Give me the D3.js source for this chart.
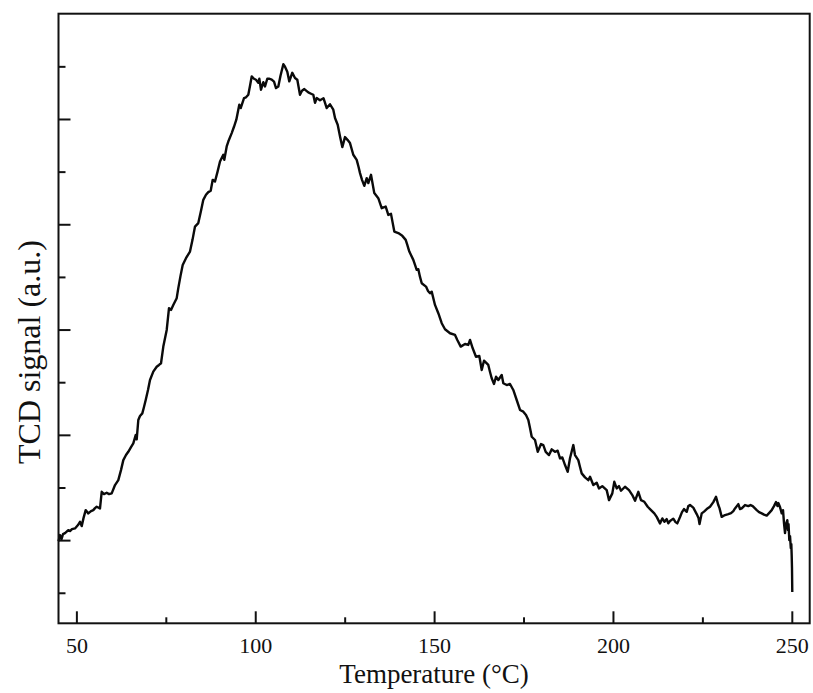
<!DOCTYPE html>
<html>
<head>
<meta charset="utf-8">
<script src="https://cdn.jsdelivr.net/npm/d3@7"></script>
<style>
  html, body { margin: 0; padding: 0; background: #fff; }
  svg text { font-family: "Liberation Serif", "Times New Roman", serif; fill: #111; }
</style>
</head>
<body>
<svg id="chart" width="813" height="693"></svg>
<script>
// TPD profile: temperature (°C) and TCD signal (a.u.)
const temperature = [
  45.0, 45.42, 45.84, 46.26, 46.82, 47.74, 48.21, 48.77, 49.61, 50.45,
  51.01, 51.49, 51.99, 52.60, 53.33, 54.09, 54.73, 55.20, 55.68, 56.60,
  57.08, 57.72, 58.47, 59.12, 59.87, 60.80, 61.72, 62.47, 63.12, 63.87,
  64.51, 65.27, 65.91, 66.58, 66.86, 67.31, 67.78, 68.43, 68.90, 69.38,
  70.02, 70.58, 71.50, 72.45, 73.10, 73.66, 74.30, 75.25, 75.89, 76.45,
  77.09, 78.04, 78.49, 79.11, 79.72, 80.64, 81.76, 82.46, 83.16, 84.08,
  84.84, 85.48, 86.23, 86.88, 87.55, 88.11, 88.75, 89.45, 90.15, 91.07,
  91.35, 92.02, 92.47, 93.42, 94.06, 94.71, 95.54, 95.94, 96.86, 97.42,
  98.06, 98.54, 99.01, 99.65, 100.21, 100.86, 101.14, 101.61, 102.25, 102.73,
  103.37, 103.99, 104.60, 105.25, 105.80, 106.45, 107.06, 107.85, 108.32, 108.96,
  109.52, 110.36, 111.11, 111.76, 112.51, 113.07, 113.72, 114.83, 115.59, 116.23,
  116.71, 117.18, 118.10, 119.08, 119.98, 120.90, 121.82, 122.30, 123.05, 123.70,
  124.34, 125.09, 125.79, 126.49, 127.41, 128.36, 128.87, 129.29, 129.85, 130.49,
  131.16, 131.61, 132.36, 133.28, 134.40, 135.35, 136.47, 137.20, 137.95, 138.37,
  138.88, 139.99, 141.11, 142.06, 142.51, 143.07, 144.19, 145.14, 145.59, 146.06,
  146.54, 147.74, 148.30, 148.86, 149.33, 150.25, 151.18, 152.13, 153.05, 154.45,
  155.85, 156.49, 157.44, 158.64, 159.56, 160.04, 160.79, 161.71, 162.64, 163.31,
  163.95, 165.15, 165.63, 166.10, 166.75, 167.31, 167.95, 168.90, 169.35, 170.30,
  171.22, 172.14, 173.09, 174.02, 174.94, 175.69, 176.34, 176.81, 177.29, 178.21,
  178.97, 179.89, 180.53, 181.20, 182.12, 182.88, 183.80, 184.55, 185.20, 185.84,
  186.60, 187.35, 187.99, 188.92, 189.39, 190.31, 190.79, 191.26, 192.19, 193.11,
  193.59, 194.51, 195.46, 196.10, 197.02, 198.25, 198.90, 199.82, 200.38, 201.05,
  201.69, 202.25, 203.37, 204.49, 205.41, 206.17, 207.09, 207.84, 208.77, 209.71,
  210.64, 211.56, 212.23, 213.15, 213.80, 214.41, 215.03, 215.47, 215.95, 216.87,
  217.49, 217.99, 218.75, 219.30, 219.86, 220.62, 221.07, 221.54, 222.46, 223.41,
  223.92, 224.20, 224.81, 225.46, 226.21, 227.13, 228.06, 228.81, 229.45, 229.79,
  230.40, 231.33, 232.25, 233.01, 233.65, 234.12, 235.05, 235.52, 236.00, 236.92,
  237.84, 238.46, 239.07, 240.19, 240.83, 241.59, 242.23, 242.98, 243.63, 244.38,
  245.02, 245.58, 246.00, 246.23, 246.70, 247.18, 247.54, 247.82, 248.10, 248.38,
  248.74, 248.94, 249.08, 249.30, 249.50, 249.72, 249.86, 249.97, 250.05, 250.13
];
const signal = [
  0.990, 1.048, 1.010, 1.057, 1.067, 1.095, 1.086, 1.105, 1.111, 1.143,
  1.174, 1.133, 1.209, 1.285, 1.254, 1.276, 1.285, 1.304, 1.317, 1.301,
  1.459, 1.437, 1.450, 1.437, 1.444, 1.523, 1.570, 1.665, 1.760, 1.808,
  1.839, 1.884, 1.919, 1.998, 1.957, 2.141, 2.179, 2.204, 2.264, 2.331,
  2.426, 2.521, 2.600, 2.647, 2.664, 2.680, 2.838, 2.996, 3.203, 3.186,
  3.234, 3.298, 3.393, 3.510, 3.614, 3.678, 3.741, 3.852, 3.978, 4.011,
  4.128, 4.232, 4.280, 4.305, 4.318, 4.422, 4.406, 4.498, 4.596, 4.660,
  4.612, 4.739, 4.786, 4.866, 4.926, 4.993, 5.135, 5.104, 5.199, 5.206,
  5.230, 5.316, 5.404, 5.382, 5.373, 5.344, 5.382, 5.278, 5.349, 5.309,
  5.382, 5.382, 5.373, 5.354, 5.294, 5.309, 5.411, 5.520, 5.496, 5.449,
  5.357, 5.439, 5.389, 5.373, 5.230, 5.268, 5.284, 5.252, 5.240, 5.230,
  5.154, 5.199, 5.178, 5.197, 5.104, 5.140, 5.088, 5.009, 4.945, 4.834,
  4.733, 4.828, 4.802, 4.771, 4.660, 4.612, 4.546, 4.486, 4.422, 4.365,
  4.438, 4.391, 4.470, 4.296, 4.248, 4.153, 4.168, 4.089, 4.099, 4.023,
  3.931, 3.916, 3.890, 3.852, 3.804, 3.741, 3.662, 3.567, 3.573, 3.500,
  3.440, 3.408, 3.367, 3.345, 3.360, 3.234, 3.155, 3.060, 3.003, 2.965,
  2.949, 2.901, 2.838, 2.863, 2.854, 2.901, 2.822, 2.742, 2.749, 2.616,
  2.704, 2.664, 2.597, 2.537, 2.483, 2.552, 2.521, 2.568, 2.490, 2.473,
  2.483, 2.426, 2.331, 2.236, 2.220, 2.188, 2.141, 2.065, 1.982, 1.951,
  1.839, 1.913, 1.903, 1.839, 1.808, 1.862, 1.839, 1.849, 1.777, 1.786,
  1.713, 1.649, 1.777, 1.903, 1.808, 1.760, 1.694, 1.634, 1.596, 1.570,
  1.602, 1.523, 1.545, 1.491, 1.513, 1.475, 1.380, 1.444, 1.554, 1.491,
  1.513, 1.469, 1.507, 1.475, 1.428, 1.374, 1.459, 1.380, 1.364, 1.317,
  1.285, 1.254, 1.221, 1.159, 1.206, 1.174, 1.200, 1.159, 1.181, 1.204,
  1.171, 1.159, 1.219, 1.266, 1.295, 1.269, 1.323, 1.333, 1.309, 1.247,
  1.209, 1.152, 1.254, 1.271, 1.295, 1.317, 1.361, 1.412, 1.333, 1.304,
  1.221, 1.238, 1.247, 1.257, 1.276, 1.301, 1.342, 1.295, 1.301, 1.333,
  1.323, 1.333, 1.323, 1.285, 1.266, 1.254, 1.242, 1.233, 1.257, 1.285,
  1.323, 1.361, 1.323, 1.352, 1.314, 1.254, 1.285, 1.159, 1.067, 1.152,
  1.190, 1.095, 1.152, 1.000, 1.038, 0.924, 0.962, 0.848, 0.734, 0.508
];

// Axis ticks
const xMajorTicks = [50, 100, 150, 200, 250];
const xMinorTicks = [75, 125, 175, 225];
const yMajorTicks = [1, 2, 3, 4, 5];
const yMinorTicks = [0.5, 1.5, 2.5, 3.5, 4.5, 5.5];

const xTitle = "Temperature (°C)";
const yTitle = "TCD signal (a.u.)";

const W = 813, H = 693;
const margin = { top: 13.7, right: 3.3, bottom: 69.7, left: 58.5 };
const innerW = W - margin.left - margin.right;
const innerH = H - margin.top - margin.bottom;

const svg = d3.select("#chart");
const g = svg.append("g").attr("transform", `translate(${margin.left},${margin.top})`);

const x = d3.scaleLinear().domain([45, 255]).range([0, innerW]);
const y = d3.scaleLinear().domain([0.21, 6]).range([innerH, 0]);

const tickStyle = sel => {
  sel.select(".domain").remove();
  sel.selectAll(".tick line").attr("stroke", "#111").attr("stroke-width", 2);
};

// bottom axis: inward major ticks with labels, plus inward minor ticks
g.append("g")
  .attr("transform", `translate(0,${innerH})`)
  .call(d3.axisBottom(x).tickValues(xMajorTicks).tickSize(-12).tickPadding(14).tickFormat(d3.format("d")))
  .call(tickStyle)
  .call(s => s.selectAll(".tick text")
    .attr("font-size", 22)
    .attr("font-family", "Liberation Serif, Times New Roman, serif")
    .attr("fill", "#111"));

g.append("g")
  .attr("transform", `translate(0,${innerH})`)
  .call(d3.axisBottom(x).tickValues(xMinorTicks).tickSize(-6).tickFormat(""))
  .call(tickStyle);

// left axis: unlabeled inward ticks
g.append("g")
  .call(d3.axisLeft(y).tickValues(yMajorTicks).tickSize(-12).tickFormat(""))
  .call(tickStyle);

g.append("g")
  .call(d3.axisLeft(y).tickValues(yMinorTicks).tickSize(-7).tickFormat(""))
  .call(tickStyle);

// signal trace
const pts = temperature.map((t, i) => [t, signal[i]]);
g.append("path")
  .datum(pts)
  .attr("fill", "none")
  .attr("stroke", "#0a0a0a")
  .attr("stroke-width", 2.4)
  .attr("stroke-linejoin", "round")
  .attr("d", d3.line().x(d => x(d[0])).y(d => y(d[1])));

// plot frame
g.append("rect")
  .attr("x", 0).attr("y", 0)
  .attr("width", innerW).attr("height", innerH)
  .attr("fill", "none")
  .attr("stroke", "#111")
  .attr("stroke-width", 2);

// axis titles
svg.append("text")
  .attr("x", margin.left + innerW / 2)
  .attr("y", 683)
  .attr("text-anchor", "middle")
  .attr("font-size", 27)
  .text(xTitle);

svg.append("text")
  .attr("transform", `translate(40,352) rotate(-90)`)
  .attr("text-anchor", "middle")
  .attr("font-size", 32)
  .text(yTitle);
</script>
</body>
</html>
